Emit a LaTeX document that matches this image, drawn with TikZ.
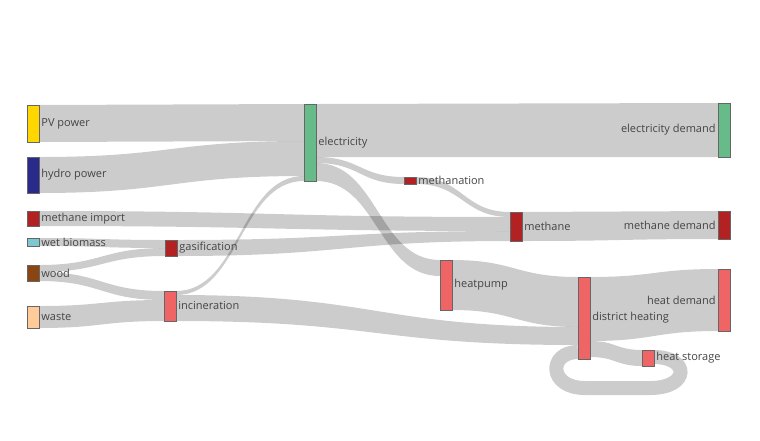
\documentclass[tikz,border=0pt]{standalone}
\usepackage{fontspec}
\setmainfont{Open Sans}
\usetikzlibrary{positioning}

% one band of the diagram: x1, top1, bottom1, x2, top2, bottom2
\newcommand{\flowband}[6]{%
  \pgfmathsetmacro{\xm}{(#1+#4)/2}%
  \fill[link] (#1,#2) .. controls (\xm,#2) and (\xm,#5) .. (#4,#5)
    -- (#4,#6) .. controls (\xm,#6) and (\xm,#3) .. (#1,#3) -- cycle;}

\definecolor{pvcol}{HTML}{FFD700}
\definecolor{hydrocol}{HTML}{2A2A8A}
\definecolor{gascol}{HTML}{B22222}
\definecolor{wetcol}{HTML}{7EC8D0}
\definecolor{woodcol}{HTML}{8B4513}
\definecolor{wastecol}{HTML}{FFCC99}
\definecolor{heatcol}{HTML}{EF6464}
\definecolor{eleccol}{HTML}{66BB88}
\definecolor{txtcol}{HTML}{444444}

\begin{document}
\begin{tikzpicture}[x=1pt, y=-1pt,
    link/.style={fill=black, fill opacity=0.2},
    bar/.style={draw=black!60, line width=0.4pt, minimum width=12pt, inner sep=0pt},
    lbl/.style={font=\fontsize{11}{13}\selectfont, text=txtcol, inner sep=1pt}
  ]
\useasboundingbox (0,0) rectangle (760,440);

% Bands
\flowband{39}{105}{142}{304}{104}{141}
\flowband{39}{157}{193}{304}{141}{176}
\flowband{176}{291}{295}{304}{176}{181}
\flowband{316}{104}{157}{718}{103}{157}
\flowband{316}{157}{163}{404}{177}{184}
\flowband{316}{163}{181}{440}{260}{276}
\flowband{416}{177}{184}{510}{212}{217}
\flowband{39}{211}{226}{510}{217}{231}
\flowband{177}{240}{256}{510}{231}{241}
\flowband{39}{238}{246}{165}{240}{248}
\flowband{39}{265}{272}{165}{248}{256}
\flowband{39}{272}{281}{164}{291}{300}
\flowband{39}{306}{328}{164}{300}{321}
\flowband{176}{295}{321}{578}{327}{345}
\flowband{452}{260}{310}{578}{277}{327}
\flowband{590}{277}{341}{718}{269}{331}
\flowband{590}{341}{357}{642}{350}{366}
\flowband{522}{212}{241}{718}{211}{239}
% storage loop back into district heating
\draw[draw=black, draw opacity=0.2, line width=14pt]
  (654,357) .. controls (690,357) and (690,388) .. (650,388) -- (585,388)
  .. controls (548,388) and (548,352) .. (578,352);

% Source nodes
\node[bar, fill=pvcol, minimum height=37pt] (pv) at (33,123.5) {};
\node[bar, fill=hydrocol, minimum height=36pt] (hydro) at (33,175) {};
\node[bar, fill=gascol, minimum height=15pt] (mimport) at (33,218.5) {};
\node[bar, fill=wetcol, minimum height=8pt] (wetbio) at (33,242) {};
\node[bar, fill=woodcol, minimum height=16pt] (wood) at (33,273) {};
\node[bar, fill=wastecol, minimum height=22pt] (waste) at (33,317) {};

% Conversion nodes
\node[bar, fill=gascol, minimum height=16pt] (gasif) at (171,248) {};
\node[bar, fill=heatcol, minimum height=30pt] (incin) at (170,306) {};
\node[bar, fill=eleccol, minimum height=77pt] (elec) at (310,142.5) {};
\node[bar, fill=gascol, minimum height=7pt] (methanation) at (410,180.5) {};
\node[bar, fill=gascol, minimum height=29pt] (methane) at (516,226.5) {};
\node[bar, fill=heatcol, minimum height=50pt] (hpump) at (446,285) {};
\node[bar, fill=heatcol, minimum height=82pt] (dheat) at (584,318) {};
\node[bar, fill=heatcol, minimum height=16pt] (hstore) at (648,358) {};

% Demand nodes
\node[bar, fill=eleccol, minimum height=54pt] (edemand) at (724,130) {};
\node[bar, fill=gascol, minimum height=28pt] (mdemand) at (724,225) {};
\node[bar, fill=heatcol, minimum height=62pt] (hdemand) at (724,300) {};

% Labels
\node[lbl, right=1pt of pv] {PV power};
\node[lbl, right=1pt of hydro] {hydro power};
\node[lbl, right=1pt of mimport] {methane import};
\node[lbl, right=1pt of wetbio] {wet biomass};
\node[lbl, right=1pt of wood] {wood};
\node[lbl, right=1pt of waste] {waste};
\node[lbl, right=1pt of gasif] {gasification};
\node[lbl, right=1pt of incin] {incineration};
\node[lbl, right=1pt of elec] {electricity};
\node[lbl, right=1pt of methanation] {methanation};
\node[lbl, right=1pt of methane] {methane};
\node[lbl, right=1pt of hpump] {heatpump};
\node[lbl, right=1pt of dheat] {district heating};
\node[lbl, right=1pt of hstore] {heat storage};
\node[lbl, left=1pt of edemand] {electricity demand};
\node[lbl, left=1pt of mdemand] {methane demand};
\node[lbl, left=1pt of hdemand] {heat demand};
\end{tikzpicture}
\end{document}
